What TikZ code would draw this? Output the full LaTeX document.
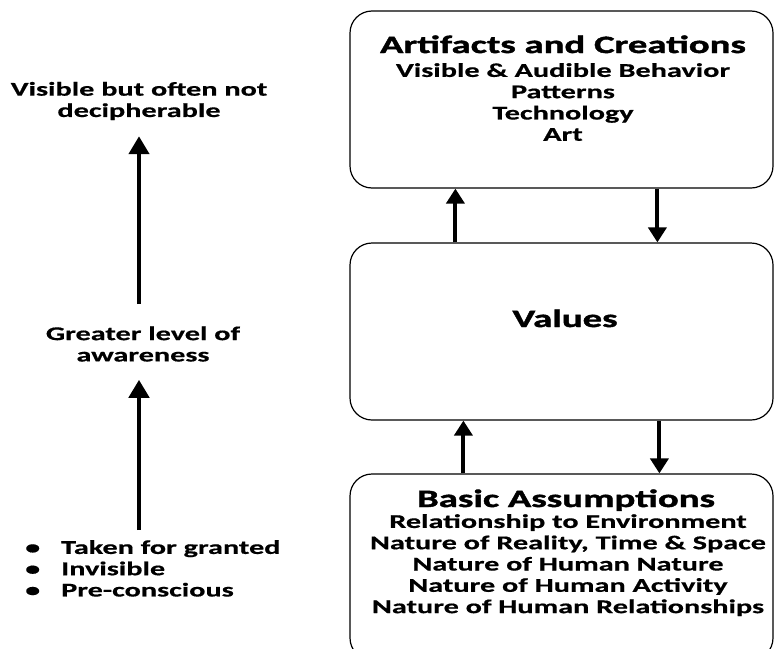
\documentclass[tikz,border=0pt]{standalone}
\usepackage{fontspec}
\setmainfont{Carlito}[FakeStretch=1.55, BoldFeatures={FakeBold=0.6}]
\newfontfamily\headfont{Carlito}[FakeStretch=1.55, BoldFeatures={FakeBold=1.6}]
\usetikzlibrary{arrows.meta}

\begin{document}
\begin{tikzpicture}[x=1pt,y=1pt,
    layer/.style ={draw, rounded corners=22pt, line width=1.2pt, minimum width=423pt},
    body/.style ={font=\bfseries\fontsize{19.5}{21.3}\selectfont, align=center, inner sep=0pt},
    head/.style ={font=\headfont\bfseries\fontsize{25}{28}\selectfont, inner sep=0pt},
    thick arrow/.style ={-{Triangle[width=20pt,length=18pt]}, line width=4.5pt},
    link/.style ={-{Triangle[width=18pt,length=15pt]}, line width=4pt}]
    \useasboundingbox (0,0) rectangle (776,-648);

    % the three layers
    \node[layer, minimum height=177pt] (art) at (561.5,-99.5) {};
    \node[layer, minimum height=177pt] (val) at (561.5,-331.5) {};
    \node[layer, minimum height=186pt] (bas) at (561.5,-567) {};

    \node[head, anchor=base] (arttitle) at (563,-53) {Artifacts and Creations};
    \node[body, anchor=north] (artlist) at (563,-63) {Visible \& Audible Behavior\\Patterns\\Technology\\Art};
    \node[head, anchor=base] (valtitle) at (565,-327) {Values};
    \node[head, anchor=base] (bastitle) at (566,-507) {Basic Assumptions};
    \node[body, anchor=north] (baslist) at (568,-514) {Relationship to Environment\\Nature of Reality, Time \& Space\\Nature of Human Nature\\Nature of Human Activity\\Nature of Human Relationships};

    % arrows between the layers
    \draw[link] ([xshift=106pt]val.north west) -- ([xshift=106pt]art.south west);
    \draw[link] ([xshift=308pt]art.south west) -- ([xshift=308pt]val.north west);
    \draw[link] ([xshift=114pt]bas.north west) -- ([xshift=114pt]val.south west);
    \draw[link] ([xshift=310pt]val.south west) -- ([xshift=310pt]bas.north west);

    % awareness scale
    \node[body] (visible) at (139,-101) {Visible but often not\\decipherable};
    \node[body] (greater) at (143,-344) {Greater level of\\awareness};
    \node[body, align=left, anchor=north west] (hidden) at (25,-540) {\makebox[36pt][l]{\textbullet}Taken for granted\\\makebox[36pt][l]{\textbullet}Invisible\\\makebox[36pt][l]{\textbullet}Pre-conscious};
    \coordinate (bottom) at (139,-530);

    \draw[thick arrow] ([yshift=22pt]greater.north -| visible) -- ([yshift=-16pt]visible.south);
    \draw[thick arrow] (bottom) -- ([yshift=-18pt]greater.south -| bottom);
\end{tikzpicture}
\end{document}
